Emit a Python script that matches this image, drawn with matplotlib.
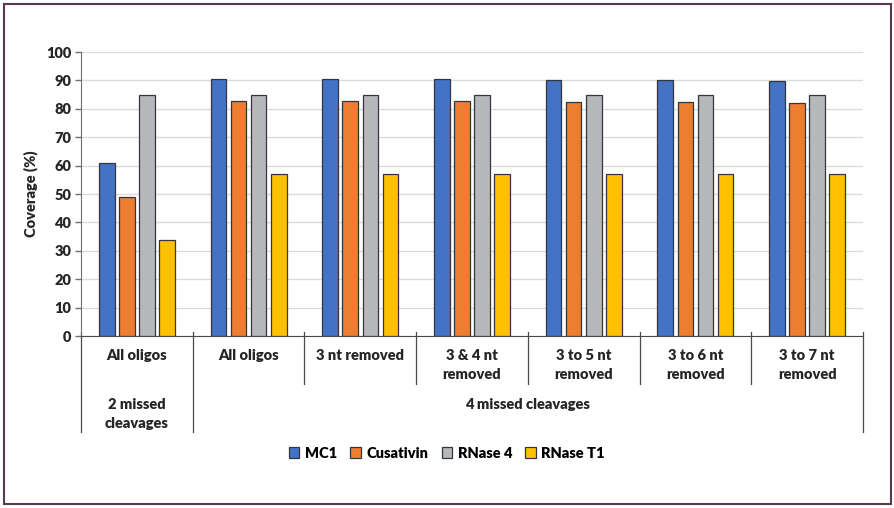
import numpy as np
import matplotlib.pyplot as plt
from matplotlib.patches import Rectangle
from matplotlib.transforms import blended_transform_factory

plt.rcParams['font.family'] = ['Lato', 'DejaVu Sans']

# Dane
groups = ['All oligos', 'All oligos', '3 nt removed', '3 & 4 nt\nremoved',
          '3 to 5 nt\nremoved', '3 to 6 nt\nremoved', '3 to 7 nt\nremoved']
series = ['MC1', 'Cusativin', 'RNase 4', 'RNase T1']
mc1 = [61.0, 90.5, 90.5, 90.5, 90.1, 90.1, 89.8]
cusativin = [48.8, 82.7, 82.6, 82.6, 82.3, 82.3, 82.0]
rnase4 = [85.0, 85.0, 85.0, 85.0, 85.0, 85.0, 85.0]
rnaset1 = [33.8, 57.0, 57.0, 57.0, 57.0, 57.0, 57.0]
top_groups = ['2 missed\ncleavages', '4 missed cleavages']
top_span = [(0, 1), (1, 7)]

colors = ['#4472C4', '#ED7D31', '#B7B8BB', '#FFC000']
values = [mc1, cusativin, rnase4, rnaset1]
W = 'heavy'

fig = plt.figure(figsize=(8.94, 5.08), dpi=100)
ax = fig.add_axes([81 / 894, 172 / 508, 782 / 894, 284 / 508])

x = np.arange(len(groups)) + 0.5
step = 0.18
width = 0.14
for k, (name, vals) in enumerate(zip(series, values)):
    ax.bar(x + (k - 1.5) * step, vals, width, color=colors[k],
           edgecolor='#33363d', linewidth=0.9, label=name, zorder=3)

ax.set_xlim(0, len(groups))
ax.set_ylim(0, 100)
ax.set_yticks(range(0, 101, 10))
ax.set_yticklabels([str(v) for v in range(0, 101, 10)], fontsize=10.5,
                   fontweight=W, color='#262626')
ax.set_xticks([])
ax.grid(axis='y', color='#dcdcdc', linewidth=1, zorder=0)
ax.tick_params(axis='y', length=4, color='#6f6f6f', width=1, pad=3)
for s in ['top', 'right']:
    ax.spines[s].set_visible(False)
ax.spines['left'].set_color('#6f6f6f')
ax.spines['bottom'].set_color('#4a4a4a')
ax.set_ylabel('Coverage (%)', fontsize=10.5, fontweight=W, color='#262626',
              labelpad=6)

# Etykiety osi x (dwa poziomy)
tr = blended_transform_factory(ax.transData, ax.transAxes)
y1 = -48 / 284
y2 = -96 / 284
for i in range(len(groups) + 1):
    bottom = y2 if i in (0, 1, len(groups)) else y1
    ax.plot([i, i], [0.014, bottom], transform=tr, color='#4a4a4a',
            linewidth=0.9, clip_on=False)
for i, g in enumerate(groups):
    ax.text(i + 0.5, -13 / 284, g, transform=tr, ha='center', va='top',
            fontsize=10.5, fontweight=W, color='#262626', linespacing=1.55)
for lab, (a, b) in zip(top_groups, top_span):
    ax.text((a + b) / 2, -62 / 284, lab, transform=tr, ha='center', va='top',
            fontsize=10.5, fontweight=W, color='#262626', linespacing=1.55)

fig.legend(loc='center', bbox_to_anchor=(0.5, 55 / 508), ncol=4, frameon=False,
           prop={'weight': W, 'size': 10.5}, handlelength=0.7,
           handleheight=0.7, handletextpad=0.4, columnspacing=0.9)

fig.patches.append(Rectangle((4 / 894, 4 / 508), 887 / 894, 500 / 508,
                             transform=fig.transFigure, fill=False,
                             edgecolor='#5a3a50', linewidth=1.5))

fig.savefig('out.png', dpi=100)
